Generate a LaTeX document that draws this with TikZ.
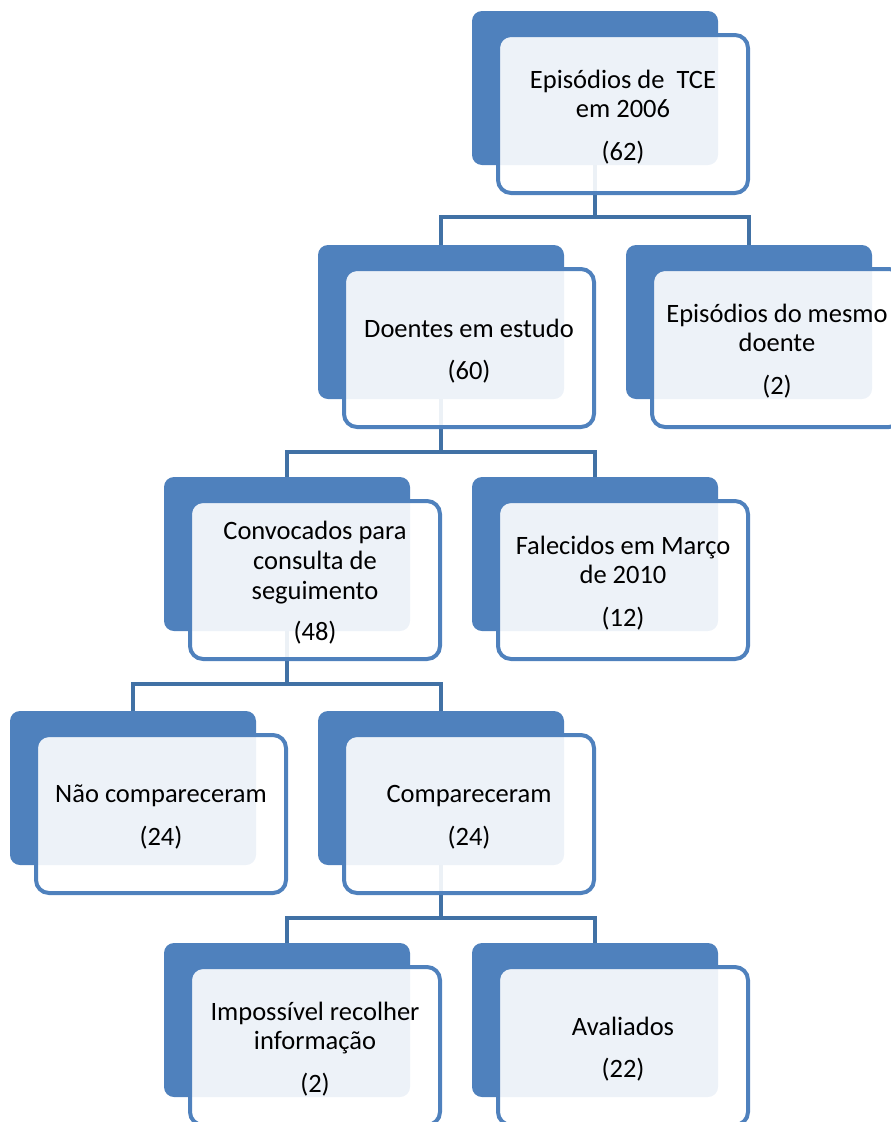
\documentclass[tikz,border=0pt]{standalone}
\usepackage{fontspec}
\setmainfont{Carlito}
\definecolor{accent}{RGB}{79,129,189}
\definecolor{connc}{RGB}{65,113,165}
\pgfdeclarelayer{bg}
\pgfsetlayers{bg,main}
\tikzset{
  backbox/.style={fill=accent, rounded corners=10pt, minimum width=246pt, minimum height=154pt, inner sep=0pt, outer sep=0pt},
  frontbox/.style={draw=accent, line width=4pt, fill=white, fill opacity=0.9, rounded corners=13pt, minimum width=250pt, minimum height=158pt, inner sep=0pt, outer sep=0pt},
  boxtext/.style={align=center, inner sep=0pt, font=\fontsize{26.5}{29.6}\selectfont},
  connline/.style={draw=connc, line width=4pt}
}
\newcommand\mybox[4]{%
  \node[backbox] (#1b) at (#2+123, #3+77) {};
  \node[frontbox] (#1f) at (#2+151, #3+103) {};
  \node[boxtext] (#1t) at (#2+151, #3+106) {#4};
}
\begin{document}
\begin{tikzpicture}[x=1pt,y=-1pt]
\useasboundingbox (0,0) rectangle (891,1122);
\clip (0,0) rectangle (891,1122);
\mybox{top}{472}{11}{Episódios de~ TCE\\em 2006\\[13pt](62)}
\mybox{doe}{318}{245}{Doentes em estudo\\[13pt](60)}
\mybox{mes}{626}{245}{Episódios do mesmo\\doente\\[13pt](2)}
\mybox{con}{164}{477}{Convocados para\\consulta de\\seguimento\\[12pt](48)}
\mybox{fal}{472}{477}{Falecidos em Março\\de 2010\\[13pt](12)}
\mybox{nao}{10}{711}{Não compareceram\\[13pt](24)}
\mybox{com}{318}{711}{Compareceram\\[13pt](24)}
\mybox{imp}{164}{943}{Impossível recolher\\informação\\[13pt](2)}
\mybox{ava}{472}{943}{Avaliados\\[13pt](22)}
\begin{pgfonlayer}{bg}
  \draw[connline] (topb.south) -- ++(0,52) -| (doeb.north);
  \draw[connline] (topb.south) -- ++(0,52) -| (mesb.north);
  \draw[connline] (doeb.south) -- ++(0,53) -| (conb.north);
  \draw[connline] (doeb.south) -- ++(0,53) -| (falb.north);
  \draw[connline] (conb.south) -- ++(0,53) -| (naob.north);
  \draw[connline] (conb.south) -- ++(0,53) -| (comb.north);
  \draw[connline] (comb.south) -- ++(0,53) -| (impb.north);
  \draw[connline] (comb.south) -- ++(0,53) -| (avab.north);
\end{pgfonlayer}
\end{tikzpicture}
\end{document}
